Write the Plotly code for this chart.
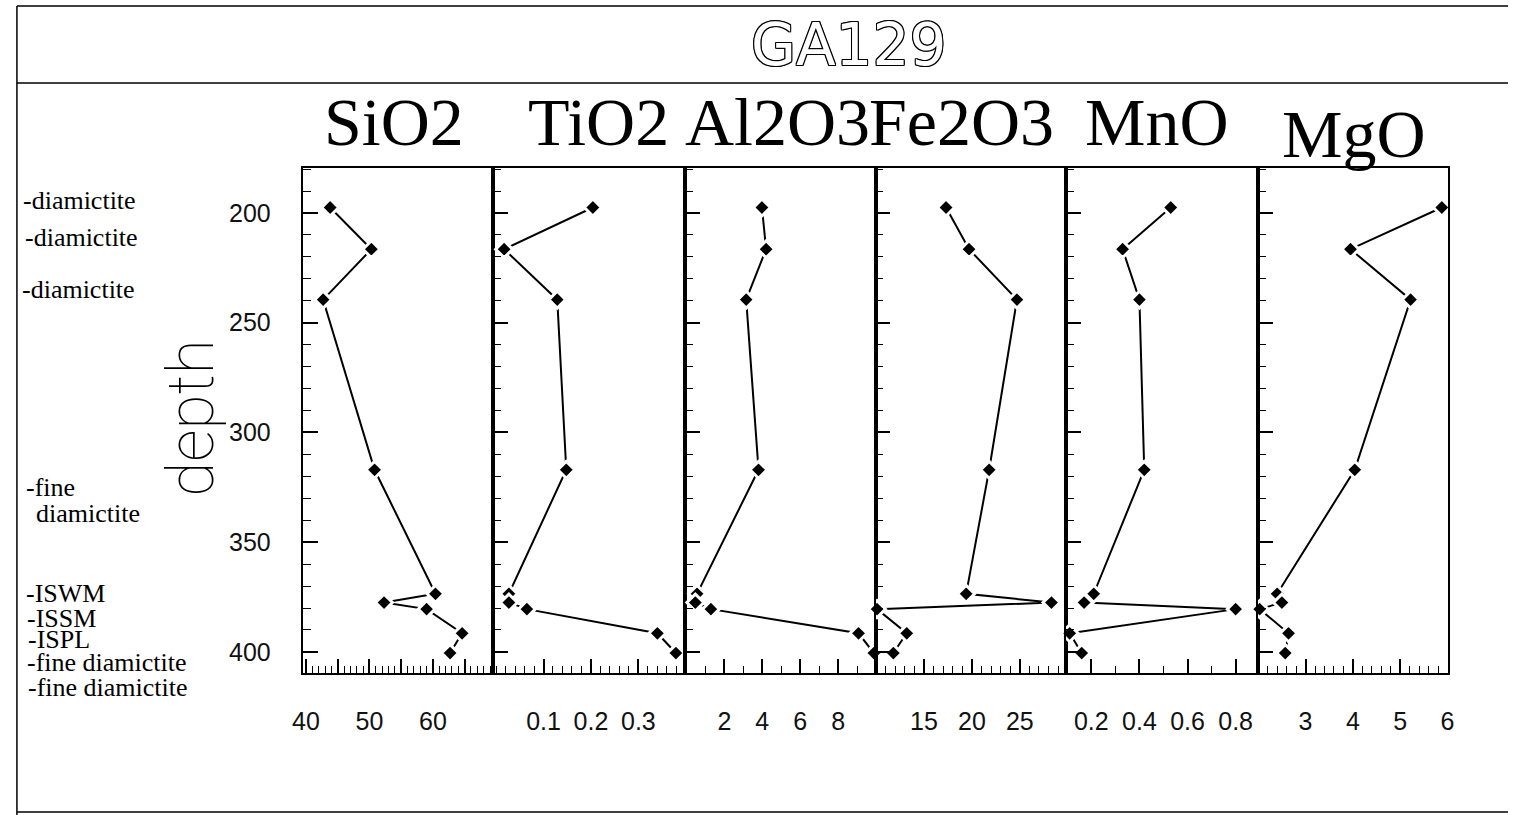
import plotly.graph_objects as go

# ---- data: borehole GA129, major oxides (wt %) against depth ----
depth = [197.5, 216.5, 239.5, 317, 373.5, 377.5, 380.5, 391.5, 400.5]
sio2 = [43.8, 50.3, 42.7, 50.8, 60.4, 52.3, 59.0, 64.6, 62.7]
tio2 = [0.204, 0.017, 0.129, 0.148, 0.027, 0.027, 0.065, 0.340, 0.379]
al2o3 = [3.98, 4.2, 3.15, 3.8, 0.56, 0.47, 1.29, 9.07, 9.88]
fe2o3 = [17.3, 19.7, 24.7, 21.8, 19.4, 28.3, 10.1, 13.2, 11.8]
mno = [0.53, 0.33, 0.40, 0.42, 0.21, 0.17, 0.80, 0.11, 0.16]
mgo = [5.88, 3.95, 5.22, 4.04, 2.40, 2.50, 2.03, 2.64, 2.57]

oxides = ["SiO2", "TiO2", "Al2O3", "Fe2O3", "MnO", "MgO"]
series = [sio2, tio2, al2o3, fe2o3, mno, mgo]

depth_ticks = [200, 250, 300, 350, 400]
x_tickvals = [
    [40, 45, 50, 55, 60, 65],
    [0.1, 0.2, 0.3],
    [2, 4, 6, 8],
    [15, 20, 25],
    [0.2, 0.4, 0.6, 0.8],
    [3, 4, 5, 6],
]
x_ticktext = [
    ["40", "", "50", "", "60", ""],
    ["0.1", "0.2", "0.3"],
    ["2", "4", "6", "8"],
    ["15", "20", "25"],
    ["0.2", "0.4", "0.6", "0.8"],
    ["3", "4", "5", "6"],
]

lithology = ["-diamictite", "-diamictite", "-diamictite", "-fine", "diamictite",
             "-ISWM", "-ISSM", "-ISPL", "-fine diamictite", "-fine diamictite"]

# ---- layout geometry (pixels on a 1515 x 815 page) ----
W, H = 1515, 815


def px(x):
    return x / W


def py(y):
    return 1 - y / H


edges = [296, 488, 682, 875, 1068, 1262, 1454]
plot_top, plot_bottom = 168, 673
x_ranges = [[39.6, 69.5], [-0.006, 0.398], [-0.08, 9.97], [9.95, 29.85],
            [0.096, 0.893], [1.995, 6.005]]
x_minor = [1, 0.02, 1, 1, 0.1, 0.2]
title_pos = [(388, 122), (595, 122), (776, 122), (962, 122), (1160, 122), (1359, 134)]
litho_pos = [(10, 200), (12, 238), (9, 290), (13, 487), (23, 513),
             (13, 593), (14, 618), (15, 639), (14, 662), (15, 687)]

fig = go.Figure()

axis_font = dict(family="Liberation Sans, Arial, sans-serif", size=25, color="#111")
layout = dict(
    width=W, height=H,
    margin=dict(l=0, r=0, t=0, b=0),
    paper_bgcolor="white", plot_bgcolor="white",
    showlegend=False,
)

for i, (name, vals) in enumerate(zip(oxides, series), start=1):
    xa = "xaxis" if i == 1 else f"xaxis{i}"
    ya = "yaxis" if i == 1 else f"yaxis{i}"
    xr = "x" if i == 1 else f"x{i}"
    yr = "y" if i == 1 else f"y{i}"

    fig.add_trace(go.Scatter(
        x=vals, y=depth, mode="lines+markers", name=name,
        xaxis=xr, yaxis=yr, cliponaxis=False,
        line=dict(color="black", width=2),
        marker=dict(symbol="diamond", size=13, color="black",
                    line=dict(color="white", width=3)),
    ))

    layout[xa] = dict(
        domain=[px(edges[i - 1]), px(edges[i])],
        range=x_ranges[i - 1], anchor=yr,
        tickmode="array", tickvals=x_tickvals[i - 1], ticktext=x_ticktext[i - 1],
        ticks="inside", ticklen=14, tickwidth=1.5, tickcolor="black",
        minor=dict(dtick=x_minor[i - 1], tick0=0, ticks="inside", ticklen=7,
                   tickwidth=1.2, tickcolor="black", showgrid=False),
        showline=True, linecolor="black", linewidth=1.5, mirror=True,
        showgrid=False, zeroline=False,
        tickfont=axis_font, ticklabelstandoff=25,
    )
    layout[ya] = dict(
        domain=[py(plot_bottom), py(plot_top)],
        range=[409.6, 179.5], anchor=xr,
        tickmode="array", tickvals=depth_ticks,
        ticks="inside", ticklen=15, tickwidth=1.5, tickcolor="black",
        minor=dict(dtick=10, tick0=0, ticks="inside", ticklen=8,
                   tickwidth=1.2, tickcolor="black", showgrid=False),
        showline=True, linecolor="black", linewidth=1.5, mirror=True,
        showgrid=False, zeroline=False,
        showticklabels=(i == 1), tickfont=axis_font, ticklabelstandoff=26,
    )
    if i > 1:
        layout[ya]["matches"] = "y"

fig.update_layout(**layout)

annotations = []
# panel headings
for name, (tx, ty) in zip(oxides, title_pos):
    annotations.append(dict(
        text=name, x=px(tx), y=py(ty), xref="paper", yref="paper",
        xanchor="center", yanchor="middle", showarrow=False,
        font=dict(family="Liberation Serif, Times New Roman, serif", size=68, color="black"),
    ))

# lithology notes beside the depth scale
for text, (tx, ty) in zip(lithology, litho_pos):
    annotations.append(dict(
        text=text, x=px(tx), y=py(ty), xref="paper", yref="paper",
        xanchor="left", yanchor="middle", showarrow=False,
        font=dict(family="Liberation Serif, Times New Roman, serif", size=26, color="black"),
    ))

# depth axis title
annotations.append(dict(
    text="depth", x=px(182), y=py(418), xref="paper", yref="paper",
    xanchor="center", yanchor="middle", textangle=-90, showarrow=False,
    font=dict(family="Roboto, DejaVu Sans, sans-serif",
              size=64, color="black", weight=100),
))

# borehole name, drawn as hollow lettering
annotations.append(dict(
    text="GA129", x=px(848), y=py(45), xref="paper", yref="paper",
    xanchor="center", yanchor="middle", showarrow=False,
    font=dict(family="DejaVu Sans, sans-serif", size=58, color="white",
              shadow="1px 0 0 #000, -1px 0 0 #000, 0 1px 0 #000, 0 -1px 0 #000, "
                     "1px 1px 0 #000, -1px -1px 0 #000, 1px -1px 0 #000, -1px 1px 0 #000"),
))

fig.update_layout(annotations=annotations)

# page frame lines
frame = [
    (6, 6, W, 6),
    (6, 83, W, 83),
    (6, 6, 6, H),
    (6, 812, W, 812),
]
for x0, y0, x1, y1 in frame:
    fig.add_shape(type="line", xref="paper", yref="paper",
                  x0=px(x0), y0=py(y0), x1=px(x1), y1=py(y1),
                  line=dict(color="black", width=1.5))

fig.write_html("out.html", post_script="document.body.style.margin = '0';")
